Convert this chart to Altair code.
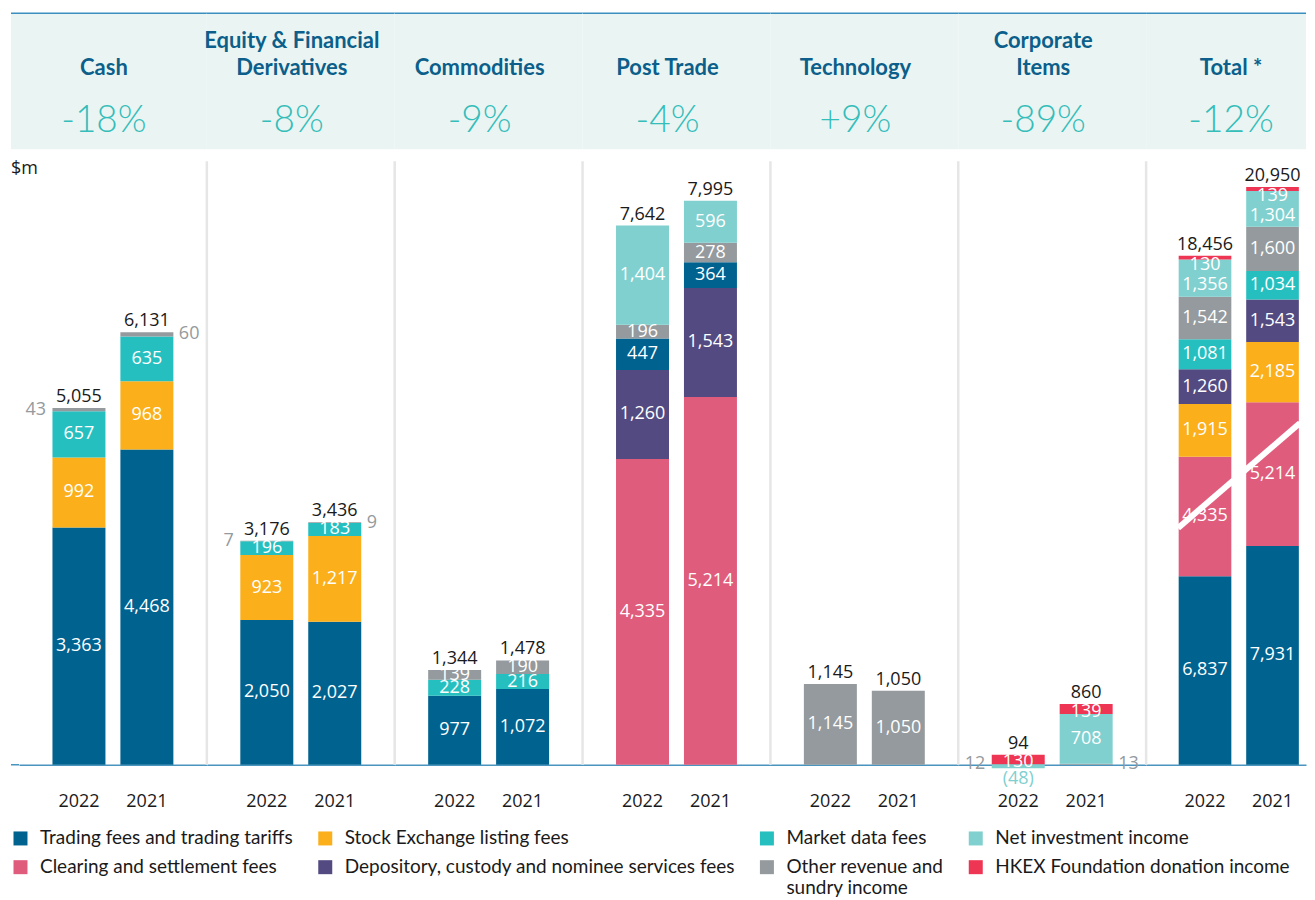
import altair as alt
import pandas as pd

# ---------------- data ----------------
years = ["2022", "2021"]
panel_names = ["Cash", "Equity & Financial Derivatives", "Commodities", "Post Trade",
               "Technology", "Corporate Items", "Total *"]
panel_title_lines = [["Cash"], ["Equity & Financial", "Derivatives"], ["Commodities"],
                     ["Post Trade"], ["Technology"], ["Corporate", "Items"], ["Total *"]]
panel_changes = ["-18%", "-8%", "-9%", "-4%", "+9%", "-89%", "-12%"]

# legend order (fills column by column: two rows x four columns)
categories = [
    "Trading fees and trading tariffs",
    "Clearing and settlement fees",
    "Stock Exchange listing fees",
    "Depository, custody and nominee services fees",
    "Market data fees",
    "Other revenue and sundry income",
    "Net investment income",
    "HKEX Foundation donation income",
]
category_colors = ["#00628f", "#e05c7c", "#fbaf1b", "#524a80",
                   "#26bfc0", "#949a9d", "#7fd0cf", "#ee3553"]
TR, CS, SE, DC, MD, OR, NI, HK = categories

# stacks listed bottom -> top
cash_stack = [TR, SE, MD, OR]
cash_2022 = [3363, 992, 657, 43]
cash_2021 = [4468, 968, 635, 60]

efd_stack = [TR, SE, MD, OR]
efd_2022 = [2050, 923, 196, 7]
efd_2021 = [2027, 1217, 183, 9]

com_stack = [TR, MD, OR]
com_2022 = [977, 228, 139]
com_2021 = [1072, 216, 190]

pt_stack = [CS, DC, TR, OR, NI]
pt_2022 = [4335, 1260, 447, 196, 1404]
pt_2021 = [5214, 1543, 364, 278, 596]

tech_stack = [OR]
tech_2022 = [1145]
tech_2021 = [1050]

corp_stack = [OR, NI, HK]
corp_2022 = [12, -48, 130]
corp_2021 = [13, 708, 139]

total_stack = [TR, CS, SE, DC, MD, OR, NI, HK]
total_2022 = [6837, 4335, 1915, 1260, 1081, 1542, 1356, 130]
total_2021 = [7931, 5214, 2185, 1543, 1034, 1600, 1304, 139]

totals_2022 = [5055, 3176, 1344, 7642, 1145, 94, 18456]
totals_2021 = [6131, 3436, 1478, 7995, 1050, 860, 20950]

stacks = [(cash_stack, cash_2022, cash_2021), (efd_stack, efd_2022, efd_2021),
          (com_stack, com_2022, com_2021), (pt_stack, pt_2022, pt_2021),
          (tech_stack, tech_2022, tech_2021), (corp_stack, corp_2022, corp_2021),
          (total_stack, total_2022, total_2021)]

# ---------------- layout / style ----------------
PLOT_H = 752
PANEL_W = 188
LAST_W = 160
YMAX = 10650
YMAX_TOTAL = 27250
NUM_FONT = "Open Sans"
TXT_FONT = "Lato"
color_of = dict(zip(categories, category_colors))
label_nudge_px = {("Total *", HK): 7, ("Total *", NI): 7, ("Corporate Items", HK): 3}

seg_rows, tot_rows = [], []
for p, (keys, v22, v21) in enumerate(stacks):
    name = panel_names[p]
    ymax = YMAX_TOTAL if p == len(panel_names) - 1 else YMAX
    ppu = PLOT_H / ymax
    for yr, vals, tot in (("2022", v22, totals_2022[p]), ("2021", v21, totals_2021[p])):
        pos, neg = 0, 0
        for k, v in zip(keys, vals):
            if v >= 0:
                lo, hi = pos, pos + v
                pos += v
            else:
                lo, hi = neg + v, neg
                neg += v
            mid = (lo + hi) / 2
            if v < 0:
                kind, ylab, txt = "below", lo, f"({abs(v):,})"
            elif v < 100 and k == OR and len(keys) > 1:
                kind = "left" if yr == "2022" else "right"
                ylab, txt = mid, f"{v:,}"
            else:
                kind = "in"
                ylab = mid - label_nudge_px.get((name, k), 0) / ppu
                txt = f"{v:,}"
            seg_rows.append(dict(panel=name, year=yr, category=k, value=v, lo=lo, hi=hi,
                                 ylab=ylab, txt=txt, kind=kind,
                                 lcolor="#ffffff" if kind == "in" else color_of[k]))
        tot_rows.append(dict(panel=name, year=yr, top=pos, txt=f"{tot:,}"))

seg_df = pd.DataFrame(seg_rows)
tot_df = pd.DataFrame(tot_rows)

color_scale = alt.Scale(domain=categories, range=category_colors)
legend = alt.Legend(
    orient="none", legendX=-8, legendY=816, columns=4, title=None,
    symbolType="square", symbolSize=196, symbolStrokeWidth=0,
    labelFont=TXT_FONT, labelFontSize=19, labelColor="#1a1a1a", labelLimit=600,
    labelOffset=10, columnPadding=22, rowPadding=9, gridAlign="each", padding=0,
    labelExpr="datum.label == 'Other revenue and sundry income' ? ['Other revenue and', 'sundry income'] : datum.label",
)


def panel_chart(p):
    name = panel_names[p]
    last = p == len(panel_names) - 1
    W = LAST_W if last else PANEL_W
    ymax = YMAX_TOTAL if last else YMAX
    seg = seg_df[seg_df.panel == name]
    tot = tot_df[tot_df.panel == name]
    hdr = alt.Chart(pd.DataFrame({"change": [panel_changes[p]]}))

    xs = alt.Scale(domain=years, paddingInner=0.22,
                   paddingOuter=(0.294 if last else 0.4927), align=(0.82 if last else 0.5))
    ys = alt.Scale(domain=[0, ymax], nice=False, zero=False)
    X = alt.X("year:N", sort=years, scale=xs, title=None,
              axis=alt.Axis(ticks=False, labelAngle=0, labelFont=NUM_FONT, labelFontSize=18,
                            labelColor="#1a1a1a", labelPadding=28, domainColor="#4a94c0",
                            domainWidth=1.5, grid=False))

    x0 = -8 if p == 0 else 0
    layers = [
        hdr.mark_rect(color="#eaf5f3").encode(x=alt.value(x0), x2=alt.value(W),
                                               y=alt.value(0), y2=alt.value(136)),
        hdr.mark_rule(color="#3a8fbf", strokeWidth=1.5).encode(x=alt.value(x0), x2=alt.value(W),
                                                               y=alt.value(0)),
    ]
    lines = panel_title_lines[p]
    ypos = [28, 55] if len(lines) == 2 else [55]
    for ln, yv in zip(lines, ypos):
        layers.append(hdr.mark_text(text=ln, font=TXT_FONT, fontSize=22, fontWeight="bold",
                                    color="#0b5f8a", baseline="middle", align="center")
                      .encode(x=alt.value(85), y=alt.value(yv)))
    layers.append(hdr.mark_text(font=TXT_FONT, fontSize=37, fontWeight=300, color="#35bdba",
                                baseline="middle", align="center")
                  .encode(x=alt.value(85), y=alt.value(108), text="change:N"))
    if p > 0:
        layers.append(hdr.mark_rule(color="#e6e6e6", strokeWidth=2.5)
                      .encode(x=alt.value(0), y=alt.value(148), y2=alt.value(PLOT_H)))
    else:
        layers.append(hdr.mark_text(text="$m", font=NUM_FONT, fontSize=18, color="#1a1a1a",
                                    align="left", baseline="middle")
                      .encode(x=alt.value(-8), y=alt.value(156)))
        layers.append(hdr.mark_rule(color="#4a94c0", strokeWidth=1.5)
                      .encode(x=alt.value(-8), x2=alt.value(0), y=alt.value(PLOT_H)))

    base = alt.Chart(seg)
    layers.append(base.mark_bar().encode(
        x=X, y=alt.Y("lo:Q", scale=ys, axis=None), y2="hi:Q",
        color=alt.Color("category:N", scale=color_scale, legend=legend)))

    if last:
        layers.append(hdr.mark_rule(color="white", strokeWidth=6, strokeCap="butt")
                      .encode(x=alt.value(32), y=alt.value(515), x2=alt.value(154), y2=alt.value(410)))

    specs = {
        "in": dict(align="center", baseline="middle", dx=0, dy=0),
        "left": dict(align="right", baseline="middle", dx=-33, dy=0),
        "right": dict(align="left", baseline="middle", dx=32, dy=0),
        "below": dict(align="center", baseline="top", dx=0, dy=2),
    }
    for kind, sp in specs.items():
        sub = seg[seg.kind == kind]
        if len(sub) == 0:
            continue
        layers.append(alt.Chart(sub).mark_text(font=NUM_FONT, fontSize=18, **sp).encode(
            x=X, y=alt.Y("ylab:Q", scale=ys, axis=None), text="txt:N",
            color=alt.Color("lcolor:N", scale=None)))

    layers.append(alt.Chart(tot).mark_text(font=NUM_FONT, fontSize=18, color="#1a1a1a",
                                           baseline="alphabetic", dy=-6).encode(
        x=X, y=alt.Y("top:Q", scale=ys, axis=None), text="txt:N"))

    return alt.layer(*layers).properties(width=W, height=PLOT_H)


chart = alt.hconcat(*[panel_chart(p) for p in range(len(panel_names))], spacing=0, bounds="flush") \
    .resolve_scale(x="independent", y="independent", color="shared") \
    .properties(padding={"left": 2, "top": 4, "right": 0, "bottom": 0}, background="white") \
    .configure_view(stroke=None)

chart.save("out.html", embed_options={"renderer": "svg", "actions": False})
